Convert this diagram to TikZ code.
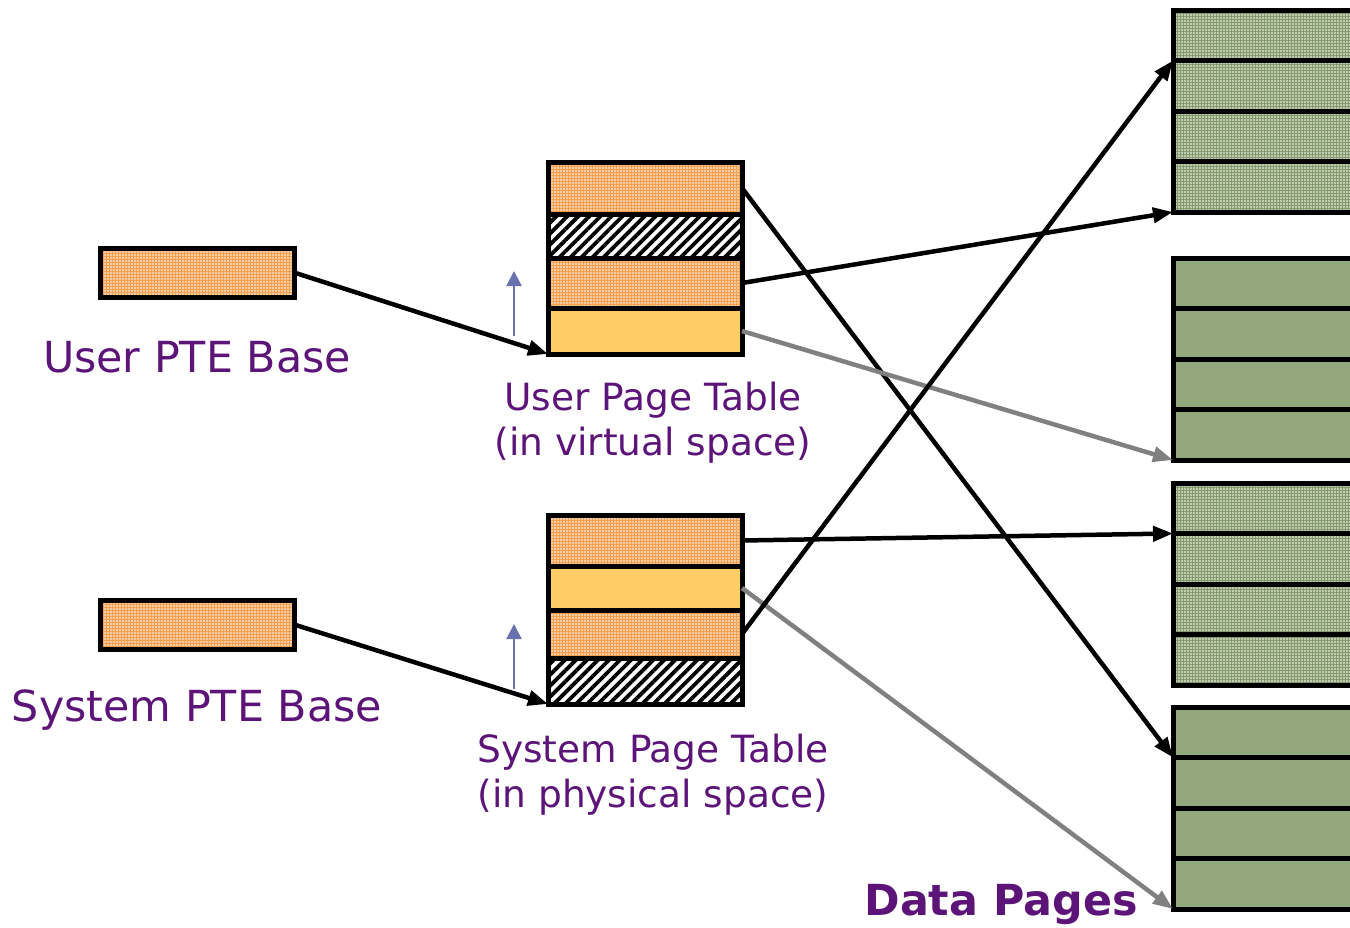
\documentclass[tikz,border=0pt]{standalone}
\usepackage{fontspec}
\setmainfont{DejaVu Sans}
\usetikzlibrary{patterns.meta,arrows.meta}
\definecolor{lblc}{HTML}{5C1479}
\definecolor{orangebase}{HTML}{F2A050}
\definecolor{orangesolid}{HTML}{FFCC66}
\definecolor{greenbase}{HTML}{84996C}
\definecolor{greensolid}{HTML}{93A77D}
\definecolor{greyarrow}{HTML}{808080}
\definecolor{bluearrow}{HTML}{6A72AE}
\tikzset{
  cell/.style={draw=black, line width=5pt, inner sep=0pt, outer sep=0pt, minimum width=194pt, anchor=north west},
  odots/.style={preaction={fill=orangebase}, pattern={Dots[radius=0.85pt,distance=3pt]}, pattern color=white},
  gdots/.style={preaction={fill=greenbase}, pattern={Dots[radius=0.85pt,distance=3pt]}, pattern color=white},
  ofill/.style={fill=orangesolid},
  gfill/.style={fill=greensolid},
  hatch/.style={preaction={fill=white}, pattern={Lines[angle=45,distance=7.8pt,line width=3.8pt]}, pattern color=black},
  arr/.style={line width=4.5pt, draw=black, -{Triangle[length=20pt,width=15pt]}},
  garr/.style={arr, draw=greyarrow},
  barr/.style={line width=2.2pt, draw=bluearrow, -{Triangle[length=15pt,width=15pt]}},
  lbl/.style={text=lblc, inner sep=0pt}
}
\begin{document}
\begin{tikzpicture}[x=1pt,y=-1pt]
\useasboundingbox (0,0) rectangle (1350,927);
\clip (0,0) rectangle (1350,927);

% Data pages
\foreach \t/\n/\s in {10/1/gdots,258/2/gfill,483/3/gdots,707/4/gfill}{
  \foreach \r/\l in {0/a,1/b,2/c,3/d}{
    \node[cell,\s,minimum width=260pt,minimum height=50.5pt] (d\n\l) at (1173,\t+\r*50.5) {};
  }
}

% User page table
\node[cell, odots, minimum height=52pt] (u1) at (548,162) {};
\node[cell, hatch, minimum height=44pt] (u2) at (548,214) {};
\node[cell, odots, minimum height=50pt] (u3) at (548,258) {};
\node[cell, ofill, minimum height=46pt] (u4) at (548,308) {};

% System page table
\node[cell, odots, minimum height=51pt] (s1) at (548,515) {};
\node[cell, ofill, minimum height=44pt] (s2) at (548,566) {};
\node[cell, odots, minimum height=48pt] (s3) at (548,610) {};
\node[cell, hatch, minimum height=46pt] (s4) at (548,658) {};

% PTE bases
\node[cell, odots, minimum height=49pt] (ub) at (100,248) {};
\node[cell, odots, minimum height=49pt] (sb) at (100,600) {};

% Connectors
\draw[arr] (ub.east) -- (u4.south west);
\draw[arr] (sb.east) -- (s4.south west);
\draw[arr] (u1.east) -- (d4a.south west);
\draw[arr] (u3.east) -- (d1d.south west);
\draw[garr] (u4.east) -- (d2d.south west);
\draw[arr] (s1.east) -- (d3a.south west);
\draw[garr] (s2.east) -- (d4d.south west);
\draw[arr] (s3.east) -- (d1a.south west);

% Small blue arrows
\coordinate (ua0) at (514,336);
\coordinate (ua1) at (514,271);
\coordinate (sa0) at (514,689);
\coordinate (sa1) at (514,624);
\draw[barr] (ua0) -- (ua1);
\draw[barr] (sa0) -- (sa1);

% Labels
\node[lbl, font=\fontsize{42.8}{50}\selectfont] (ubl) at (197,357) {User PTE Base};
\node[lbl, font=\fontsize{42.8}{50}\selectfont] (sbl) at (197,710) {System PTE Base};
\node[lbl, align=center, font=\fontsize{37.5}{45}\selectfont] (utl) at (653,423) {User Page Table\\(in virtual space)};
\node[lbl, align=center, font=\fontsize{37.5}{45}\selectfont] (stl) at (653,775) {System Page Table\\(in physical space)};
\node[lbl, font=\bfseries\fontsize{42.8}{48}\selectfont] (dpl) at (1001,905) {Data Pages};
\end{tikzpicture}
\end{document}
